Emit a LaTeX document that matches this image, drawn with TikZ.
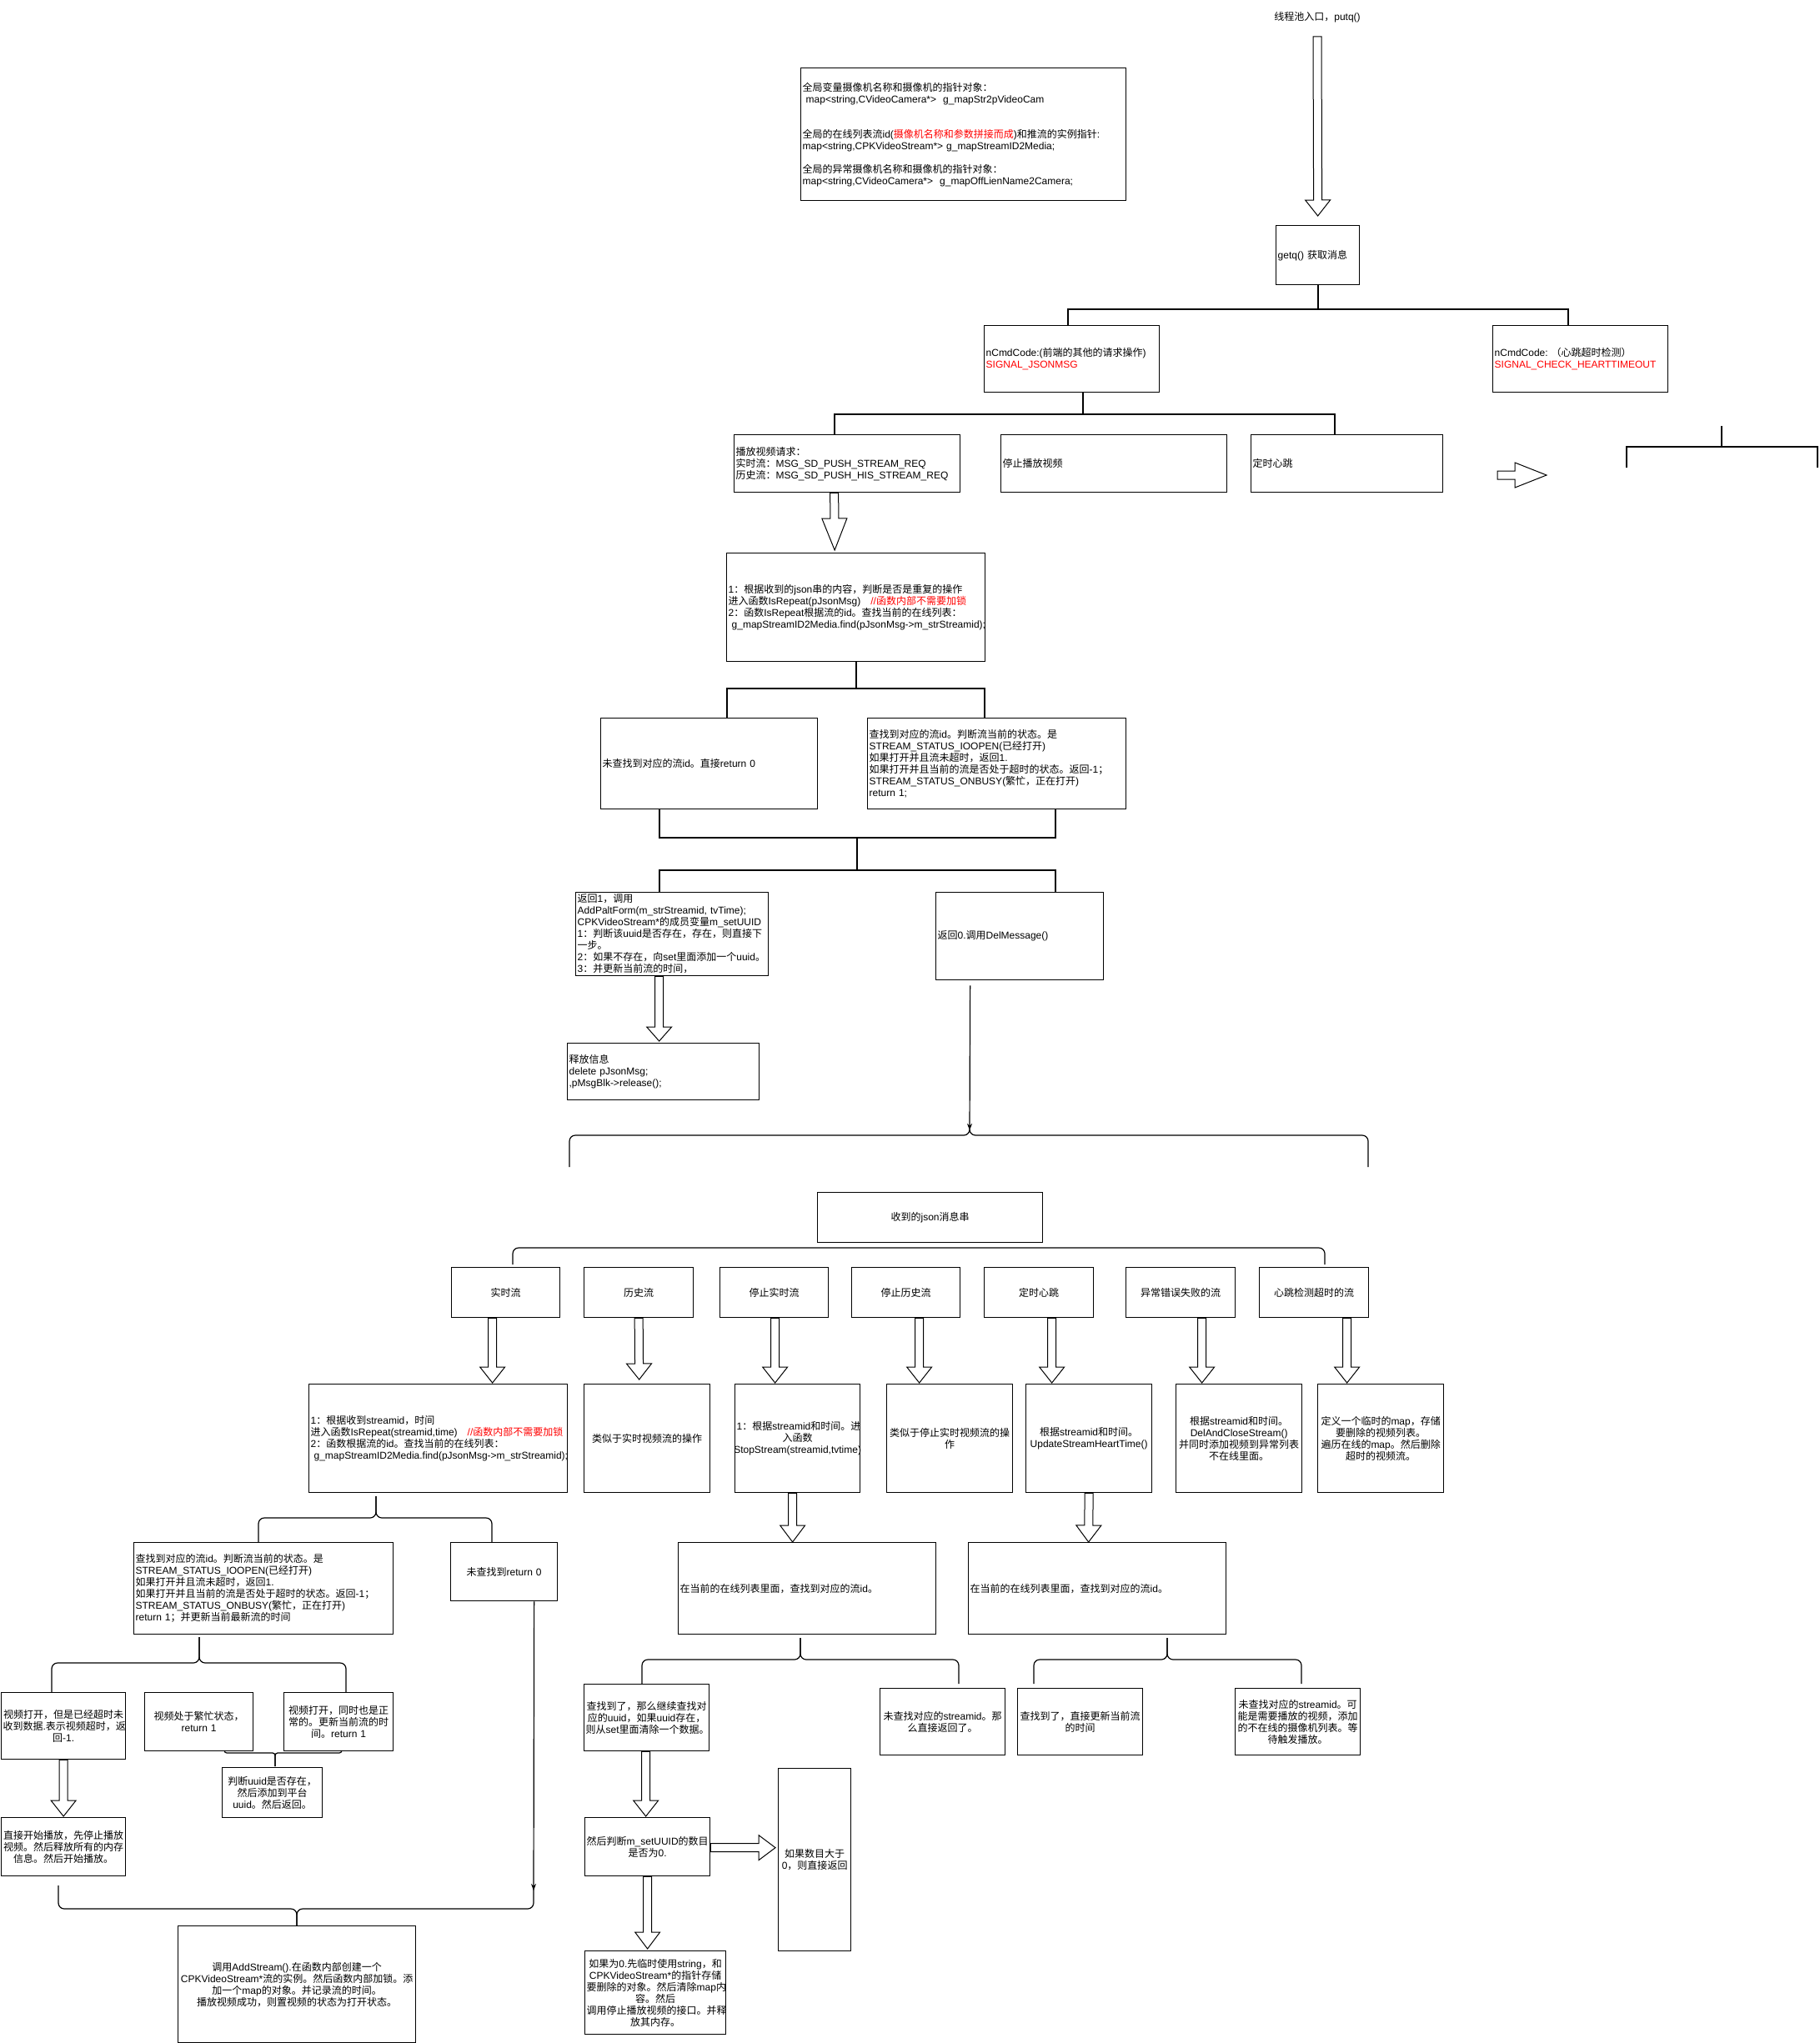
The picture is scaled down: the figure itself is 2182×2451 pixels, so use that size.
\documentclass[tikz,border=0pt]{standalone}
\usepackage{fontspec}
\setmainfont{Liberation Sans}
\newfontfamily\cjkfont{Noto Sans CJK SC}
\newfontfamily\latfont{Liberation Sans}
% switch to the CJK face for Chinese characters
\XeTeXinterchartokenstate=1
\newXeTeXintercharclass\cjkclass
\newcount\cjkcnt
\def\setcjkrange#1#2{\cjkcnt=#1\relax
  \loop\XeTeXcharclass\cjkcnt=\cjkclass\relax
  \ifnum\cjkcnt<#2\relax\advance\cjkcnt by 1\repeat}
\setcjkrange{"3000}{"303F}
\setcjkrange{"4E00}{"9FFF}
\setcjkrange{"FF00}{"FFEF}
\XeTeXinterchartoks 0 \cjkclass = {\cjkfont}
\XeTeXinterchartoks 4095 \cjkclass = {\cjkfont}
\XeTeXinterchartoks \cjkclass 0 = {\latfont}
\XeTeXinterchartoks \cjkclass 4095 = {\latfont}
\usetikzlibrary{calc,arrows.meta}
\newcommand\fs{\fontsize{12}{14}\selectfont\hyphenpenalty=10000\exhyphenpenalty=10000}
% curly bracket: left x, right x, cusp x, bar y, ends y, cusp y
\newcommand\curlyb[7][7pt]{%
  \draw[brc, rounded corners=#1] (#2,#6) -- (#2,#5) -- (#4,#5) -- (#4,#7);
  \draw[brc, rounded corners=#1] (#3,#6) -- (#3,#5) -- (#4,#5) -- (#4,#7);}
\tikzset{
  box/.style={draw, line width=1.3pt, inner xsep=2pt, inner ysep=0pt, anchor=north west, font=\fs, align=left},
  cbox/.style={box, align=center},
  bus/.style={line width=2pt},
  brc/.style={line width=1.2pt},
  arr/.style={line width=1.2pt, -{Stealth[length=8pt,width=6pt]}},
  fat/.style={draw, fill=white, line width=1pt, to path={
    let \p1=(\tikztostart), \p2=(\tikztotarget), \n1={atan2((\y2)-(\y1),(\x2)-(\x1))} in
    ($(\p1)+(\n1+90:5pt)$) -- ($(\p2)+(\n1+180:#1pt)+(\n1+90:5pt)$) -- ($(\p2)+(\n1+180:#1pt)+(\n1+90:15pt)$)
    -- (\p2) -- ($(\p2)+(\n1+180:#1pt)+(\n1-90:15pt)$) -- ($(\p2)+(\n1+180:#1pt)+(\n1-90:5pt)$)
    -- ($(\p1)+(\n1-90:5pt)$) -- cycle}},
  fat/.default=19,
}
\begin{document}
\begin{tikzpicture}[x=1pt,y=-1pt]
\fill[white] (0,0) rectangle (2182,2451);
\useasboundingbox (0,0) rectangle (2182,2451);

% top part
\node[font=\fs] (entry) at (1580,21) {线程池入口，putq()};
\node[box, minimum width=390, minimum height=159, text width=386pt] (glob) at (960,81) {全局变量摄像机名称和摄像机的指针对象：\\
\ map<string,CVideoCamera*>\ \ g\_mapStr2pVideoCam\\[28pt]
全局的在线列表流id(\textcolor{red}{摄像机名称和参数拼接而成})和推流的实例指针:\\
map<string,CPKVideoStream*>~g\_mapStreamID2Media;\\[14pt]
全局的异常摄像机名称和摄像机的指针对象：\\
map<string,CVideoCamera*>\ \ g\_mapOffLienName2Camera;};
\node[box, minimum width=100, minimum height=71, text width=96pt] (getq) at (1530,270) {getq() 获取消息};
\node[box, minimum width=210, minimum height=80, text width=206pt] (jsonmsg) at (1180,390) {nCmdCode:(前端的其他的请求操作)\\\textcolor{red}{SIGNAL\_JSONMSG}};
\node[box, minimum width=210, minimum height=80, text width=206pt] (heart) at (1790,390) {nCmdCode:~（心跳超时检测）\\\textcolor{red}{SIGNAL\_CHECK\_HEARTTIMEOUT}};
\node[box, minimum width=271, minimum height=69, text width=267pt] (play) at (880,521) {播放视频请求：\\实时流：MSG\_SD\_PUSH\_STREAM\_REQ\\历史流：MSG\_SD\_PUSH\_HIS\_STREAM\_REQ};
\node[box, minimum width=271, minimum height=69, text width=267pt] (stopplay) at (1200,521) {停止播放视频};
\node[box, minimum width=230, minimum height=69, text width=226pt] (timer) at (1500,521) {定时心跳};
\node[box, minimum width=310, minimum height=130, text width=306pt] (repeat) at (871,663) {1：根据收到的json串的内容，判断是否是重复的操作\\
进入函数IsRepeat(pJsonMsg)~~~\textcolor{red}{//函数内部不需要加锁}\\
2：函数IsRepeat根据流的id。查找当前的在线列表：\\
\ g\_mapStreamID2Media.find(pJsonMsg->m\_strStreamid);};
\node[box, minimum width=260, minimum height=109, text width=256pt] (notfound) at (720,861) {未查找到对应的流id。直接return~0};
\node[box, minimum width=310, minimum height=109, text width=306pt] (found) at (1040,861) {查找到对应的流id。判断流当前的状态。是\\
STREAM\_STATUS\_IOOPEN(已经打开)\\如果打开并且流未超时，返回1.\\
如果打开并且当前的流是否处于超时的状态。返回-1；\\STREAM\_STATUS\_ONBUSY(繁忙，正在打开)\\return~1;};
\node[box, minimum width=231, minimum height=100, text width=227pt] (ret1) at (690,1070) {返回1，调用\\AddPaltForm(m\_strStreamid,~tvTime);\\
CPKVideoStream*的成员变量m\_setUUID\\1：判断该uuid是否存在，存在，则直接下\\一步。\\
2：如果不存在，向set里面添加一个uuid。\\3：并更新当前流的时间，};
\node[box, minimum width=201, minimum height=105, text width=197pt] (ret0) at (1122,1070) {返回0.调用DelMessage()};
\node[box, minimum width=230, minimum height=68, text width=226pt] (release) at (680,1251) {释放信息\\delete~pJsonMsg;\\,pMsgBlk->release();};

% json part
\node[cbox, minimum width=270, minimum height=60, text width=266pt] (json) at (980,1430) {收到的json消息串};
\node[cbox, minimum width=130, minimum height=60, text width=126pt] (rtbox) at (541,1520) {实时流};
\node[cbox, minimum width=131, minimum height=60, text width=127pt] (hisbox) at (700,1520) {历史流};
\node[cbox, minimum width=130, minimum height=60, text width=126pt] (srtbox) at (863,1520) {停止实时流};
\node[cbox, minimum width=130, minimum height=60, text width=126pt] (shisbox) at (1021,1520) {停止历史流};
\node[cbox, minimum width=131, minimum height=60, text width=127pt] (beatbox) at (1180,1520) {定时心跳};
\node[cbox, minimum width=131, minimum height=60, text width=127pt] (errbox) at (1350,1520) {异常错误失败的流};
\node[cbox, minimum width=131, minimum height=60, text width=127pt] (htobox) at (1510,1520) {心跳检测超时的流};

\node[box, minimum width=310, minimum height=130, text width=306pt] (rtdo) at (370,1660) {1：根据收到streamid，时间\\
进入函数IsRepeat(streamid,time)~~~\textcolor{red}{//函数内部不需要加锁}\\
2：函数根据流的id。查找当前的在线列表：\\
\ g\_mapStreamID2Media.find(pJsonMsg->m\_strStreamid);};
\node[cbox, minimum width=151, minimum height=130, text width=147pt] (hisdo) at (700,1660) {类似于实时视频流的操作};
\node[cbox, minimum width=150, minimum height=130, text width=146pt] (srtdo) at (881,1660) {1：根据streamid和时间。进\\入函数\\\makebox[146pt]{StopStream(streamid,tvtime)}};
\node[cbox, minimum width=151, minimum height=130, text width=147pt] (shisdo) at (1063,1660) {类似于停止实时视频流的操\\作};
\node[cbox, minimum width=151, minimum height=130, text width=147pt] (beatdo) at (1230,1660) {根据streamid和时间。\\UpdateStreamHeartTime()};
\node[cbox, minimum width=151, minimum height=130, text width=147pt] (errdo) at (1410,1660) {根据streamid和时间。\\DelAndCloseStream()\\并同时添加视频到异常列表\\不在线里面。};
\node[cbox, minimum width=151, minimum height=130, text width=147pt] (htodo) at (1580,1660) {定义一个临时的map，存储\\要删除的视频列表。\\遍历在线的map。然后删除\\超时的视频流。};

% lower left
\node[box, minimum width=311, minimum height=110, text width=307pt] (found2) at (160,1850) {查找到对应的流id。判断流当前的状态。是\\
STREAM\_STATUS\_IOOPEN(已经打开)\\如果打开并且流未超时，返回1.\\
如果打开并且当前的流是否处于超时的状态。返回-1；\\STREAM\_STATUS\_ONBUSY(繁忙，正在打开)\\return~1；并更新当前最新流的时间};
\node[cbox, minimum width=128, minimum height=70, text width=124pt] (nf2) at (540,1850) {未查找到return~0};
\node[cbox, minimum width=149, minimum height=80, text width=145pt] (tmo) at (1,2030) {视频打开，但是已经超时未\\收到数据.表示视频超时，返\\回-1.};
\node[cbox, minimum width=130, minimum height=70, text width=126pt] (busy) at (173,2030) {视频处于繁忙状态，\\return~1};
\node[cbox, minimum width=131, minimum height=70, text width=127pt] (okbox) at (340,2030) {视频打开，同时也是正\\常的。更新当前流的时\\间。return~1};
\node[cbox, minimum width=120, minimum height=60, text width=116pt] (uuidchk) at (266,2120) {判断uuid是否存在，\\然后添加到平台\\uuid。然后返回。};
\node[cbox, minimum width=149, minimum height=70, text width=145pt] (direct) at (1,2180) {直接开始播放，先停止播放\\视频。然后释放所有的内存\\信息。然后开始播放。};
\node[cbox, minimum width=285, minimum height=140, text width=281pt] (addstream) at (213,2310) {调用AddStream().在函数内部创建一个\\
CPKVideoStream*流的实例。然后函数内部加锁。添\\加一个map的对象。并记录流的时间。\\播放视频成功，则置视频的状态为打开状态。};

% lower middle
\node[box, minimum width=309, minimum height=110, text width=305pt] (online1) at (813,1850) {在当前的在线列表里面，查找到对应的流id。};
\node[box, minimum width=309, minimum height=110, text width=305pt] (online2) at (1161,1850) {在当前的在线列表里面，查找到对应的流id。};
\node[cbox, minimum width=150, minimum height=80, text width=146pt] (uuidfound) at (700,2020) {查找到了，那么继续查找对\\应的uuid，如果uuid存在，\\则从set里面清除一个数据。};
\node[cbox, minimum width=150, minimum height=80, text width=146pt] (nfs) at (1055,2025) {未查找对应的streamid。那\\么直接返回了。};
\node[cbox, minimum width=150, minimum height=80, text width=146pt] (foundupd) at (1220,2025) {查找到了，直接更新当前流\\的时间};
\node[cbox, minimum width=150, minimum height=80, text width=146pt] (nfs2) at (1481,2025) {未查找对应的streamid。可\\能是需要播放的视频，添加\\的不在线的摄像机列表。等\\待触发播放。};
\node[cbox, minimum width=150, minimum height=70, text width=146pt] (cnt) at (701,2180) {然后判断m\_setUUID的数目\\是否为0.};
\node[cbox, minimum width=87, minimum height=219, text width=83pt] (gt0) at (933,2121) {如果数目大于\\0，则直接返回};
\node[cbox, minimum width=169, minimum height=100, text width=165pt] (zero) at (701,2340) {如果为0.先临时使用string，和\\CPKVideoStream*的指针存储\\要删除的对象。然后清除map内\\容。然后\\调用停止播放视频的接口。并释\\放其内存。};

% orthogonal connectors
\draw[bus] (getq.south) -- ++(0,29) -| ([xshift=-5pt]jsonmsg.north);
\draw[bus] (getq.south) -- ++(0,29) -| ([xshift=-15pt]heart.north);
\draw[bus] ([xshift=13pt]jsonmsg.south) -- ++(0,26) -| ([xshift=-15.5pt]play.north);
\draw[bus] ([xshift=13pt]jsonmsg.south) -- ++(0,26) -| ([xshift=-15pt]timer.north);
\draw[bus] (repeat.south) -- ++(0,32) -| ([xshift=21pt]notfound.north);
\draw[bus] (repeat.south) -- ++(0,32) -| ([xshift=-15pt]found.north);
\coordinate (join1) at (1028,1005);
\coordinate (join2) at (1028,1044);
\draw[bus] ([xshift=-60pt]notfound.south) |- (join1);
\draw[bus] ([xshift=70pt]found.south) |- (join1);
\draw[bus] (join1) -- (join2) -| ([xshift=-15.5pt]ret1.north);
\draw[bus] (join2) -| ([xshift=42.5pt]ret0.north);
\draw[bus] (2065,511) -- (2065,536); % loose tree on the right
\draw[bus] (1951,561) |- (2180,536) -- (2180,561);

% hollow arrows
\draw[fat] ([yshift=-13pt]entry.south) to ([yshift=11pt]getq.north);
\draw[fat=38] ([xshift=-15.5pt]play.south) to ([xshift=-25.5pt,yshift=3pt]repeat.north);
\draw[fat=17] ([xshift=-15.5pt]ret1.south) to ([xshift=-5pt,yshift=2pt]release.north);
\draw[fat] ([xshift=-16pt]rtbox.south) to ([xshift=65pt,yshift=1pt]rtdo.north);
\draw[fat] (hisbox.south) to ([xshift=-9.5pt,yshift=5pt]hisdo.north);
\draw[fat] ([xshift=1pt]srtbox.south) to ([xshift=-27pt,yshift=1pt]srtdo.north);
\draw[fat] ([xshift=16pt]shisbox.south) to ([xshift=-36.5pt,yshift=1pt]shisdo.north);
\draw[fat] ([xshift=15.5pt]beatbox.south) to ([xshift=-44.5pt,yshift=1pt]beatdo.north);
\draw[fat] ([xshift=25.5pt]errbox.south) to ([xshift=-44.5pt,yshift=1pt]errdo.north);
\draw[fat] ([xshift=39.5pt]htobox.south) to ([xshift=-40.5pt,yshift=1pt]htodo.north);
\draw[fat=20] ([xshift=-6pt]srtdo.south) to ([xshift=-17.5pt]online1.north);
\draw[fat=20] (beatdo.south) to ([xshift=-10.5pt]online2.north);
\draw[fat] (tmo.south) to ([yshift=1pt]direct.north);
\draw[fat] ([xshift=-1pt]uuidfound.south) to ([xshift=-2pt,yshift=1pt]cnt.north);
\draw[fat=20] (cnt.south) to ([xshift=-9.5pt,yshift=2pt]zero.north);
\draw[fat=20] ([yshift=-1pt]cnt.east) to ([xshift=-3pt,yshift=14.5pt]gt0.west);
\coordinate (ra1) at (1796,570);
\coordinate (ra2) at (1855,570);
\draw[fat=38] (ra1) to (ra2); % loose arrow

% thin arrows into brackets
\coordinate (cusp1) at (1163,1356);
\coordinate (b8r) at (640,2268);
\draw[arr] ([xshift=-59.5pt,yshift=-6pt]ret0.south) -- (cusp1);
\draw[arr] ([xshift=36pt]nf2.south) -- (b8r);

% curly brackets
\curlyb{683}{1641}{1163}{1362}{1400}{1356}
\draw[brc, rounded corners=7pt] (615,1517) -- (615,1497) -- (1589,1497) -- (1589,1517); % bar under json
\curlyb{310}{590}{451}{1821}{1850}{1795}
\curlyb{62}{415}{239}{1995}{2030}{1964}
\curlyb{770}{1150}{960}{1991}{2020}{1965}
\curlyb{1240}{1561}{1400}{1991}{2020}{1965}
\curlyb[3pt]{269}{410}{330}{2103}{2100}{2119}
\curlyb{70}{640}{356}{2290}{2262}{2310}
\end{tikzpicture}
\end{document}
